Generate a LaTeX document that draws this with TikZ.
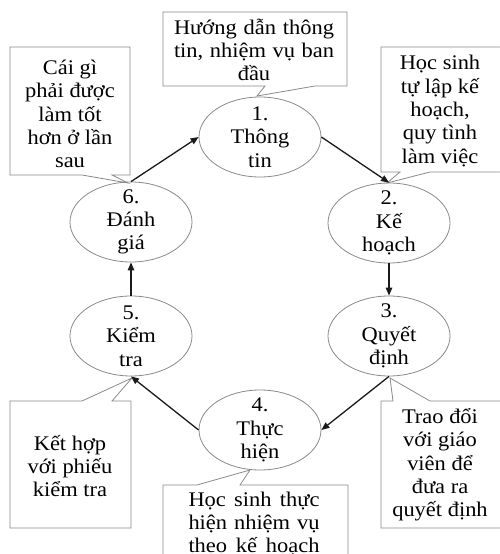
\documentclass[tikz,border=0pt]{standalone}
\usepackage{fontspec}
\setmainfont{Liberation Serif}[FakeStretch=1.08]
\usetikzlibrary{shapes.geometric,arrows.meta}
\definecolor{edgegray}{HTML}{8A8A8A}
\definecolor{arrowblack}{HTML}{1A1A1A}
\tikzset{
  stage/.style={draw=edgegray, line width=0.8pt, ellipse, minimum width=122pt, minimum height=80pt, inner sep=0pt},
  txt/.style={inner sep=0pt, align=center, font=\fontsize{20.8}{23.3}\selectfont},
  callout/.style={draw=edgegray, line width=0.8pt, fill=white},
  flow/.style={draw=arrowblack, line width=1.3pt, -{Triangle[length=8pt,width=6.5pt]}}
}
\newcommand{\spreadline}[2]{\leavevmode\makebox[#1][l]{#2}}
\begin{document}
\begin{tikzpicture}[x=1pt,y=-1pt]
\useasboundingbox[fill=white] (0,0) rectangle (499,554);

% callouts
\draw[callout] (163,12) -- (347,12) -- (347,86) -- (315,86) -- (257,96) -- (265,86) -- (163,86) -- cycle;
\draw[callout] (381,47) -- (503,47) -- (503,172) -- (430,172) -- (387,183) -- (400,172) -- (381,172) -- cycle;
\draw[callout] (10,47) -- (130,47) -- (130,175) -- (112,175) -- (128,183) -- (82,175) -- (10,175) -- cycle;
\draw[callout] (10,401) -- (82,401) -- (132,378) -- (112,401) -- (131,401) -- (131,528) -- (10,528) -- cycle;
\draw[callout] (381,401) -- (393,401) -- (390,378) -- (430,401) -- (503,401) -- (503,528) -- (381,528) -- cycle;
\draw[callout] (163,485) -- (197,485) -- (250,470) -- (240,485) -- (348,485) -- (348,560) -- (163,560) -- cycle;

\node[txt, text width=160pt] (ta) at (254,50) {\spreadline{160pt}{Hướng\hfill dẫn\hfill thông}\\\spreadline{160pt}{tin,\hfill nhiệm\hfill vụ\hfill ban}\\đầu};
\node[txt] (tb) at (440,111) {Học sinh\\tự lập kế\\hoạch,\\quy tình\\làm việc};
\node[txt] (tc) at (70,114) {Cái gì\\phải được\\làm tốt\\hơn ở lần\\sau};
\node[txt] (td) at (70,466) {Kết hợp\\với phiếu\\kiểm tra};
\node[txt] (te) at (440,465) {Trao đổi\\với giáo\\viên để\\đưa ra\\quyết định};
\node[txt, text width=131pt] (tf) at (254,524) {\spreadline{131pt}{Học\hfill sinh\hfill thực}\\\spreadline{131pt}{hiện\hfill nhiệm\hfill vụ}\\\spreadline{131pt}{theo\hfill kế\hfill hoạch}};

% stages
\node[stage] (e1) at (260,137) {};
\node[stage] (e2) at (389,223) {};
\node[stage] (e3) at (389,336) {};
\node[stage] (e4) at (260,430) {};
\node[stage] (e5) at (131,336) {};
\node[stage] (e6) at (131,222) {};

\node[txt] (t1) at (e1.center) {1.\\Thông\\tin};
\node[txt] (t2) at (e2.center) {2.\\Kế\\hoạch};
\node[txt] (t3) at (e3.center) {3.\\Quyết\\định};
\node[txt] (t4) at (e4.center) {4.\\Thực\\hiện};
\node[txt] (t5) at (e5.center) {5.\\Kiểm\\tra};
\node[txt] (t6) at (e6.center) {6.\\Đánh\\giá};

% flow
\draw[flow] (e1.east) -- (e2.north);
\draw[flow] (e2.south) -- (e3.north);
\draw[flow] (e3.south) -- (e4.east);
\draw[flow] (e4.west) -- (e5.south);
\draw[flow] (e5.north) -- (e6.south);
\draw[flow] (e6.north) -- (e1.west);
\end{tikzpicture}
\end{document}
